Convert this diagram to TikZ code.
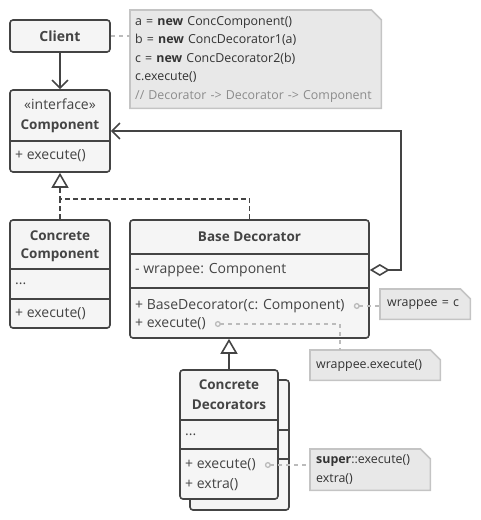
\documentclass[tikz,border=0pt]{standalone}
\usepackage{fontspec}
\setmainfont{Open Sans}
\usepackage{tikz}
\usetikzlibrary{arrows.meta,calc,positioning,backgrounds}
\definecolor{umldark}{HTML}{444444}
\definecolor{umlfill}{HTML}{F5F5F5}
\definecolor{notefill}{HTML}{E8E8E8}
\definecolor{noteline}{HTML}{C4C4C4}
\definecolor{linkgray}{HTML}{BBBBBB}

\begin{document}
\begin{tikzpicture}[x=1pt,y=-1pt,font=\fontsize{14}{17}\selectfont,text=umldark,
  cls/.style={draw=umldark,line width=1.6pt,rounded corners=3pt,fill=umlfill,inner sep=0},
  sect/.style={draw=umldark,line width=1.6pt},
  txt/.style={anchor=west,inner sep=0},
  hdr/.style={font=\fontsize{13.5}{18}\selectfont\bfseries,align=center,inner sep=0},
  note/.style={anchor=north west,align=left,inner ysep=0,inner xsep=6pt,text=black!80,font=\fontsize{12.4}{18.5}\selectfont},
  link/.style={draw=umldark,line width=1.6pt},
  realize/.style={link,dash pattern=on 5pt off 3pt},
  notelink/.style={draw=linkgray,line width=1.3pt,dash pattern=on 4pt off 4pt},
  >={Straight Barb[length=8pt,width=16pt]}]
\useasboundingbox (0,0) rectangle (480,520);

% classes
\node[cls,minimum width=100pt,minimum height=32pt] (client) at (60,36) {\bfseries Client};

\node[cls,minimum width=100pt,minimum height=82pt] (comp) at (60,131) {};
\draw[sect] (10,141) -- (110,141);
\node[inner sep=0] (iface) at (60,104) {«interface»};
\node[hdr] (compname) at (60,126) {Component};
\node[txt] (cexec) at (15,156) {+ execute()};

\node[cls,minimum width=100pt,minimum height=108pt] (cc) at (60,274) {};
\draw[sect] (10,269) -- (110,269);
\draw[sect] (10,299) -- (110,299);
\node[hdr] (ccname) at (60,246) {Concrete\\Component};
\node[txt] (ccdots) at (15,284) {...};
\node[txt] (ccexec) at (15,314) {+ execute()};

\node[cls,minimum width=239pt,minimum height=118pt] (base) at (249.5,279) {};
\draw[sect] (130,254) -- (369,254);
\draw[sect] (130,288) -- (369,288);
\node[hdr] (basename) at (249.5,237) {Base Decorator};
\node[txt] (wrap) at (135,270) {- wrappee: Component};
\node[txt] (ctor) at (135,306) {+ BaseDecorator(c: Component)};
\node[txt] (bexec) at (135,324) {+ execute()};

\node[cls,minimum width=99pt,minimum height=130pt] (cdback) at (239.5,445) {};
\draw[sect] (190,430) -- (289,430);
\draw[sect] (190,459) -- (289,459);
\node[cls,minimum width=98pt,minimum height=129pt] (cd) at (229,434.5) {};
\draw[sect] (180,420) -- (278,420);
\draw[sect] (180,449) -- (278,449);
\node[hdr,font=\fontsize{13.5}{20}\selectfont\bfseries] (cdname) at (229,395) {Concrete\\Decorators};
\node[txt] (cddots) at (185,435) {...};
\node[txt] (cdexec) at (185,465) {+ execute()};
\node[txt] (cdextra) at (185,485) {+ extra()};

% notes
\node[note,text width=241pt,inner xsep=5pt,minimum height=98pt] (setup) at (130,10) {a = \textbf{new} ConcComponent()\\b = \textbf{new} ConcDecorator1(a)\\c = \textbf{new} ConcDecorator2(b)\\c.execute()\\\textcolor{black!45}{// Decorator -> Decorator -> Component}};
\node[note,text width=76pt,inner xsep=7pt,minimum height=30pt] (wrapc) at (380,289) {wrappee = c};
\node[note,text width=118pt,minimum height=30pt] (wexecnote) at (310,350) {wrappee.execute()};
\node[note,text width=108pt,minimum height=41pt] (supx) at (310,449) {\textbf{super}::execute()\\extra()};
\begin{scope}[on background layer]
\foreach \n in {setup,wrapc,wexecnote,supx}{
  \filldraw[draw=noteline,fill=notefill,line width=1.6pt] (\n.south west) -- (\n.north west) -- ($(\n.north east)+(-10,0)$) -- ($(\n.north east)+(0,10)$) -- (\n.south east) -- cycle;
}
\end{scope}
\coordinate (wexec) at (340,350);

% connectors
\draw[link,->] (client) -- (comp);
\draw[notelink] (client.east) -- (client.east -| setup.west);
\draw[link,{Diamond[open,length=20pt,width=12pt]}->] (base.east |- wrap) -- ++(31,0) |- (comp.east);
\draw[realize,-{Triangle[open,length=15pt,width=17pt]}] (base.north) -- ++(0,-20) -| (comp.south);
\draw[realize] (cc.north) -- ++(0,-20);
\draw[link,-{Triangle[open,length=15pt,width=17pt]}] (cd.north) -- (cd.north |- base.south);
\draw[notelink,{Circle[open,length=6pt,width=6pt]}-] ($(ctor.east)+(9,0)$) -- (ctor -| wrapc.west);
\draw[notelink,{Circle[open,length=6pt,width=6pt]}-] ($(bexec.east)+(9,0)$) -| (wexec);
\draw[notelink,{Circle[open,length=6pt,width=6pt]}-] ($(cdexec.east)+(9,0)$) -- (cdexec -| supx.west);
\end{tikzpicture}
\end{document}
